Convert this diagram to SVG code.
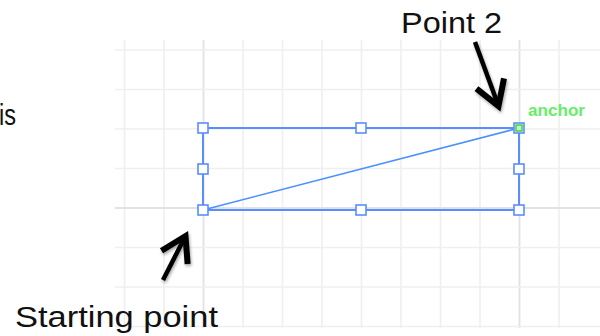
<svg xmlns="http://www.w3.org/2000/svg" width="600" height="336" viewBox="0 0 600 336">
<style>
.g{stroke:#efefef;stroke-width:1.6}
.gm{stroke:#e2e2e2;stroke-width:1.8}
.lbl{font-family:"Liberation Sans",Arial,sans-serif;font-size:30px;fill:#111}
.box{fill:none;stroke:#5a8dff;stroke-width:2}
.h{fill:#fff;stroke:#5a8dff;stroke-width:1.6}
.arr{fill:none;stroke:#000;stroke-width:4.5}
</style>
<defs>
<marker id="chev" markerUnits="userSpaceOnUse" markerWidth="40" markerHeight="40" viewBox="-25 -15 30 30" refX="0" refY="0" orient="auto" overflow="visible">
<path d="M-18,-11 L0,0 L-18,11" fill="none" stroke="#000" stroke-width="4.5" stroke-linejoin="miter"/>
</marker>
<filter id="sh" x="-30%" y="-30%" width="160%" height="160%">
<feDropShadow dx="1" dy="2" stdDeviation="1.5" flood-color="#000" flood-opacity="0.35"/>
</filter>
</defs>
<rect width="600" height="336" fill="#fff"/>
<g id="grid">
<line class="g" x1="124.5" y1="40" x2="124.5" y2="328"/>
<line class="g" x1="164" y1="40" x2="164" y2="328"/>
<line class="gm" x1="203.5" y1="40" x2="203.5" y2="328"/>
<line class="g" x1="243" y1="40" x2="243" y2="328"/>
<line class="g" x1="282.5" y1="40" x2="282.5" y2="328"/>
<line class="g" x1="322" y1="40" x2="322" y2="328"/>
<line class="g" x1="361.5" y1="40" x2="361.5" y2="328"/>
<line class="g" x1="401" y1="40" x2="401" y2="328"/>
<line class="g" x1="440.5" y1="40" x2="440.5" y2="328"/>
<line class="g" x1="480" y1="40" x2="480" y2="328"/>
<line class="gm" x1="519.5" y1="40" x2="519.5" y2="328"/>
<line class="g" x1="559" y1="40" x2="559" y2="328"/>
<line class="g" x1="115" y1="50" x2="600" y2="50"/>
<line class="g" x1="115" y1="89.5" x2="600" y2="89.5"/>
<line class="g" x1="115" y1="129" x2="600" y2="129"/>
<line class="g" x1="115" y1="168.5" x2="600" y2="168.5"/>
<line class="gm" x1="115" y1="208" x2="600" y2="208"/>
<line class="g" x1="115" y1="247.5" x2="600" y2="247.5"/>
<line class="g" x1="115" y1="287" x2="600" y2="287"/>
<line class="g" x1="115" y1="326.5" x2="600" y2="326.5"/>
</g>
<g id="selection">
<rect class="box" x="203" y="128" width="316" height="82"/>
<line x1="203" y1="210" x2="519" y2="128" stroke="#4a90ff" stroke-width="1.6"/>
</g>
<g id="handles">
<rect class="h" x="198" y="123" width="10" height="10"/>
<rect class="h" x="356" y="123" width="10" height="10"/>
<rect class="h" x="514" y="123" width="10" height="10"/>
<rect class="h" x="198" y="164" width="10" height="10"/>
<rect class="h" x="514" y="164" width="10" height="10"/>
<rect class="h" x="198" y="205" width="10" height="10"/>
<rect class="h" x="356" y="205" width="10" height="10"/>
<rect class="h" x="514" y="205" width="10" height="10"/>
</g>
<g id="anchor">
<rect x="516" y="125" width="6" height="6" fill="#c8f5c8" stroke="#3ed43e" stroke-width="1.5"/>
<text x="528" y="116" font-family="Liberation Sans,Arial,sans-serif" font-size="16" font-weight="bold" fill="#66ee66" textLength="57" lengthAdjust="spacingAndGlyphs">anchor</text>
</g>
<g id="labels">
<text class="lbl" x="-1" y="125" textLength="17" lengthAdjust="spacingAndGlyphs">is</text>
<text class="lbl" x="401" y="33" textLength="101" lengthAdjust="spacingAndGlyphs">Point 2</text>
<text class="lbl" x="15" y="327" textLength="203" lengthAdjust="spacingAndGlyphs">Starting point</text>
</g>
<g id="connectors" filter="url(#sh)">
<line class="arr" x1="475" y1="42" x2="498.5" y2="106" marker-end="url(#chev)"/>
<line class="arr" x1="163" y1="280" x2="185.5" y2="236" marker-end="url(#chev)"/>
</g>
</svg>
